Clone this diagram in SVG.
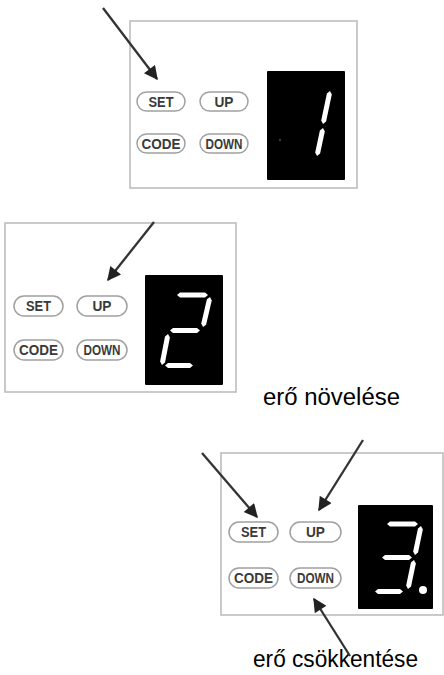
<svg xmlns="http://www.w3.org/2000/svg" width="444" height="675" viewBox="0 0 444 675">
<style>
.panel{fill:#fff;stroke:#bdbdbd;stroke-width:1.6}
.btn{fill:#fff;stroke:#a0a0a0;stroke-width:1.5}
.bt{font-family:"Liberation Sans",Arial,sans-serif;font-weight:bold;font-size:14px;fill:#3a3a3a;text-anchor:middle}
.disp{fill:#000}
.seg{fill:#fff}
.arr{stroke:#333;stroke-width:2.3;fill:none}
.lbl{font-family:"Liberation Sans",Arial,sans-serif;font-size:23px;fill:#000}
</style>
<defs>
<marker id="ah" viewBox="0 0 10 10" refX="9" refY="5" markerWidth="6.5" markerHeight="6" orient="auto" markerUnits="strokeWidth">
<path d="M0,0 L10,5 L0,10 z" fill="#222"/>
</marker>
</defs>
<rect width="444" height="675" fill="#fff"/>

<g id="panel1">
<rect class="panel" x="130" y="21" width="227" height="167"/>
<rect class="btn" x="137" y="92" width="48" height="19" rx="9.5"/>
<text class="bt" x="161" y="106.5" textLength="25" lengthAdjust="spacingAndGlyphs">SET</text>
<rect class="btn" x="200" y="92" width="48" height="19" rx="9.5"/>
<text class="bt" x="224" y="106.5" textLength="19" lengthAdjust="spacingAndGlyphs">UP</text>
<rect class="btn" x="137" y="134" width="48" height="19" rx="9.5"/>
<text class="bt" x="161" y="148.5" textLength="39" lengthAdjust="spacingAndGlyphs">CODE</text>
<rect class="btn" x="200" y="134" width="48" height="19" rx="9.5"/>
<text class="bt" x="224" y="148.5" textLength="37" lengthAdjust="spacingAndGlyphs">DOWN</text>
<rect class="disp" x="267" y="71" width="78" height="109" rx="1"/>
<circle cx="280" cy="140" r="1.2" fill="#333"/>
<polygon class="seg" points="330,91 331.8,94.5 326.1,121.6 323,124 321.2,120.5 326.9,93.4"/>
<polygon class="seg" points="323,128 324.8,131.5 320.1,153.6 317,156 315.2,152.5 319.9,130.4"/>
</g>

<g id="panel2">
<rect class="panel" x="5" y="223" width="231" height="169"/>
<rect class="btn" x="14" y="296" width="49" height="20" rx="10"/>
<text class="bt" x="38.5" y="311" textLength="25" lengthAdjust="spacingAndGlyphs">SET</text>
<rect class="btn" x="77" y="296" width="50" height="20" rx="10"/>
<text class="bt" x="102" y="311" textLength="19" lengthAdjust="spacingAndGlyphs">UP</text>
<rect class="btn" x="14" y="340" width="49" height="20" rx="10"/>
<text class="bt" x="38.5" y="355" textLength="39" lengthAdjust="spacingAndGlyphs">CODE</text>
<rect class="btn" x="77" y="340" width="50" height="20" rx="10"/>
<text class="bt" x="102" y="355" textLength="37" lengthAdjust="spacingAndGlyphs">DOWN</text>
<rect class="disp" x="145" y="275" width="78" height="110" rx="1"/>
<polygon class="seg" points="177,295 180,292.5 205,292.5 208,295 205,297.5 180,297.5"/>
<polygon class="seg" points="210,297 211.75,300.5 206.1,324.65 203,327 201.25,323.5 206.9,299.35"/>
<polygon class="seg" points="170,330.5 173,328 197,328 200,330.5 197,333 173,333"/>
<polygon class="seg" points="168,334 169.9,337.4 165,362.5 162,365 160.1,361.6 165,336.5"/>
<polygon class="seg" points="165,365.5 168,363 190,363 193,365.5 190,368 168,368"/>
</g>

<g id="panel3">
<rect class="panel" x="221" y="453" width="222" height="162"/>
<rect class="btn" x="229" y="522" width="49" height="20" rx="10"/>
<text class="bt" x="253.5" y="537" textLength="25" lengthAdjust="spacingAndGlyphs">SET</text>
<rect class="btn" x="290" y="522" width="51" height="20" rx="10"/>
<text class="bt" x="315.5" y="537" textLength="19" lengthAdjust="spacingAndGlyphs">UP</text>
<rect class="btn" x="229" y="568" width="49" height="20" rx="10"/>
<text class="bt" x="253.5" y="583" textLength="39" lengthAdjust="spacingAndGlyphs">CODE</text>
<rect class="btn" x="290" y="568" width="51" height="20" rx="10"/>
<text class="bt" x="315.5" y="583" textLength="37" lengthAdjust="spacingAndGlyphs">DOWN</text>
<rect class="disp" x="358" y="505" width="75" height="104" rx="1"/>
<polygon class="seg" points="387,524 390,521.5 415,521.5 418,524 415,526.5 390,526.5"/>
<polygon class="seg" points="421,526 422.85,529.4 418.05,552.6 415,555 413.15,551.6 417.95,528.4"/>
<polygon class="seg" points="382,557.5 385,555 409,555 412,557.5 409,560 385,560"/>
<polygon class="seg" points="414,560 415.85,563.4 411.05,586.6 408,589 406.15,585.6 410.95,562.4"/>
<polygon class="seg" points="375,591.5 378,589 400,589 403,591.5 400,594 378,594"/>
<circle class="seg" cx="423" cy="590" r="4"/>
</g>

<g id="labels">
<text class="lbl" x="263" y="405" textLength="137" lengthAdjust="spacingAndGlyphs">erő növelése</text>
<text class="lbl" x="253" y="667" textLength="165" lengthAdjust="spacingAndGlyphs">erő csökkentése</text>
</g>

<g id="connectors">
<line class="arr" x1="103" y1="8" x2="157" y2="79" marker-end="url(#ah)"/>
<line class="arr" x1="154" y1="222" x2="108" y2="280" marker-end="url(#ah)"/>
<line class="arr" x1="202" y1="453" x2="257" y2="517" marker-end="url(#ah)"/>
<line class="arr" x1="363" y1="440" x2="319" y2="510" marker-end="url(#ah)"/>
<line class="arr" x1="350" y1="656" x2="314" y2="599" marker-end="url(#ah)"/>
</g>
</svg>
